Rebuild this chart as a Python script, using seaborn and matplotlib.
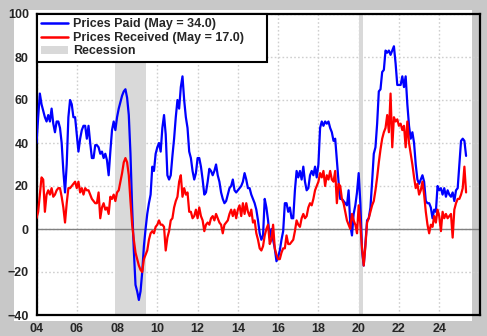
import numpy as np
import pandas as pd
import matplotlib
matplotlib.use("Agg")
import matplotlib.pyplot as plt
import seaborn as sns
from matplotlib.patches import Patch, Rectangle
from matplotlib.lines import Line2D

# ---------------- data (monthly, Jan 2004 .. May 2025) ----------------
start_year = 2004
prices_paid = [
    40, 52, 63, 58, 55, 52, 50, 53, 50, 56, 49, 45,   # 2004
    50, 50, 47, 40, 27, 17, 30, 52, 60, 58, 52, 52,   # 2005
    44, 36, 42, 46, 48, 48, 42, 48, 40, 33, 33, 39,   # 2006
    39, 38, 35, 36, 33, 35, 32, 25, 36, 46, 50, 46,   # 2007
    52, 56, 59, 62, 64, 65, 61, 53, 35, 10, -10, -26,  # 2008
    -29, -33, -29, -20, -8, 0, 7, 12, 16, 29, 27, 35,  # 2009
    38, 40, 36, 47, 53, 44, 25, 23, 25, 34, 42, 52,   # 2010
    60, 56, 66, 71, 60, 52, 47, 36, 33, 27, 23, 26,   # 2011
    33, 33, 29, 23, 16, 17, 22, 28, 27, 25, 27, 30,   # 2012
    25, 22, 17, 14, 12, 13, 16, 19, 20, 23, 18, 17,   # 2013
    18, 19, 20, 22, 26, 23, 19, 19, 16, 14, 12, 9,    # 2014
    4, -2, -5, -3, 14, 10, 4, -4, 0, -5, -9, -15,     # 2015
    -13, -10, -5, -1, 12, 12, 8, 10, 5, 5, 18, 27,    # 2016
    24, 27, 23, 29, 22, 18, 19, 25, 27, 25, 29, 24,   # 2017
    30, 47, 50, 48, 50, 49, 50, 47, 45, 41, 42, 32,   # 2018
    22, 14, 14, 13, 12, 11, 18, 2, -3, 7, 11, 17,     # 2019
    26, 12, -10, -17, -7, 4, 5, 10, 22, 35, 38, 49,   # 2020
    64, 65, 73, 74, 83, 82, 83, 81, 83, 85, 77, 67,   # 2021
    67, 67, 71, 66, 71, 58, 48, 42, 45, 40, 30, 23,   # 2022
    21, 23, 25, 22, 13, 12, 12, 10, 5, 9, 8, 20,      # 2023
    18, 19, 16, 19, 15, 18, 16, 15, 17, 13, 18, 19,   # 2024
    30, 41, 42, 41, 34,                               # 2025
]
prices_received = [
    5, 8, 16, 24, 23, 8, 16, 18, 16, 19, 15, 16,      # 2004
    18, 19, 19, 15, 10, 3, 12, 19, 19, 20, 21, 22,    # 2005
    19, 22, 17, 19, 16, 19, 18, 18, 16, 14, 13, 12,   # 2006
    12, 17, 5, 10, 12, 9, 10, 7, 15, 14, 16, 13,      # 2007
    17, 18, 22, 26, 31, 33, 31, 25, 13, 2, -5, -11,   # 2008
    -14, -17, -19, -20, -14, -12, -10, -5, -2, -1, -2, 1,  # 2009
    2, 4, 2, 2, 1, -10, -4, -1, 4, 5, 10, 13,         # 2010
    15, 22, 25, 15, 19, 16, 17, 8, 8, 5, 6, 9,        # 2011
    5, 10, 6, 4, -1, 2, 3, 2, 5, 6, 4, 7,             # 2012
    5, 3, 2, -2, 2, 3, 4, 7, 9, 6, 9, 5,              # 2013
    9, 11, 6, 12, 7, 12, 8, 6, 9, 3, 4, -2,           # 2014
    -5, -9, -10, -8, -3, 0, 2, -7, -5, 2, -9, -12,    # 2015
    -14, -14, -11, -9, -9, -3, -7, -7, -6, -5, -1, 4, # 2016
    2, 1, 5, 7, 5, 6, 10, 12, 11, 14, 18, 20,         # 2017
    22, 26, 24, 27, 20, 25, 23, 27, 23, 22, 27, 12,   # 2018
    21, 20, 14, 12, 8, 4, 2, 0, 7, 4, 2, -2,          # 2019
    11, 2, -9, -17, -8, 3, 5, 8, 11, 13, 18, 24,      # 2020
    31, 37, 42, 45, 47, 53, 45, 63, 38, 52, 50, 51,   # 2021
    48, 49, 46, 48, 38, 50, 40, 35, 30, 24, 19, 21,   # 2022
    16, 18, 22, 16, 8, 2, -2, 2, 1, 6, 3, 9,          # 2023
    6, -1, 8, 5, 7, 5, 6, 7, -4, 9, 12, 14,           # 2024
    14, 16, 19, 29, 17,                               # 2025
]
recessions = [(2007 + 11 / 12, 2009 + 5 / 12), (2020.0, 2020.2)]
x_ticks = [2004, 2006, 2008, 2010, 2012, 2014, 2016, 2018, 2020, 2022, 2024]
x_tick_labels = ["04", "06", "08", "10", "12", "14", "16", "18", "20", "22", "24"]
y_ticks = [-40, -20, 0, 20, 40, 60, 80, 100]

label_paid = f"Prices Paid (May = {prices_paid[-1]:.1f})"
label_recv = f"Prices Received (May = {prices_received[-1]:.1f})"

# ---------------- style ----------------
sns.set_style("white")
plt.rcParams["font.family"] = ["Liberation Sans", "DejaVu Sans"]
plt.rcParams["font.weight"] = "bold"

BLUE = "#0000ff"
RED = "#ff0000"
REC = "#d9d9d9"
BG = "#c8c8c8"

n = len(prices_paid)
t = start_year + np.arange(n) / 12.0
df = pd.DataFrame({
    "t": np.concatenate([t, t]),
    "value": prices_paid + prices_received,
    "series": [label_paid] * n + [label_recv] * n,
})

W, H = 487, 336
fig = plt.figure(figsize=(W / 100, H / 100), dpi=100, facecolor=BG)
fig.add_artist(Rectangle((14 / W, 1 - 321 / H), 458 / W, 311 / H,
                         transform=fig.transFigure, facecolor="white",
                         edgecolor="none", zorder=-5))
ax = fig.add_axes([36.5 / W, 1 - 315 / H, 443 / W, 301 / H])
ax.set_facecolor("none")
ax.set_axisbelow(True)

for a, b in recessions:
    ax.axvspan(a, b, color=REC, lw=0, zorder=1)

ax.grid(True, color="#cfcfcf", linestyle=(0, (1.2, 1.6)), linewidth=1.0)
ax.axhline(0, color="#808080", lw=1.0, zorder=1.5)

sns.lineplot(data=df, x="t", y="value", hue="series",
             palette=[BLUE, RED], linewidth=1.6, ax=ax, legend=False,
             errorbar=None, zorder=3)

ax.set_xlim(2004, 2026)
ax.set_ylim(-40, 100)
ax.set_xticks(x_ticks, x_tick_labels)
ax.set_yticks(y_ticks)
ax.set_xlabel("")
ax.set_ylabel("")
ax.tick_params(axis="both", direction="out", length=3.5, width=1.0,
               color="black", labelsize=9, pad=2)
for s in ax.spines.values():
    s.set_visible(True)
    s.set_color("black")
    s.set_linewidth(1.6)

handles = [Line2D([], [], color=BLUE, lw=1.8),
           Line2D([], [], color=RED, lw=1.8),
           Patch(facecolor=REC, edgecolor="none")]
leg = ax.legend(handles, [label_paid, label_recv, "Recession"],
                loc="upper left", bbox_to_anchor=(0, 0, 230 / 443, 1),
                mode="expand", borderaxespad=0, fancybox=False,
                framealpha=1, edgecolor="black",
                prop={"weight": "bold", "size": 9},
                handlelength=2.2, handletextpad=0.4, labelspacing=0.12,
                borderpad=0.35)
leg.get_frame().set_linewidth(1.5)
leg.set_zorder(5)

fig.savefig("out.png", dpi=100, facecolor=BG)
